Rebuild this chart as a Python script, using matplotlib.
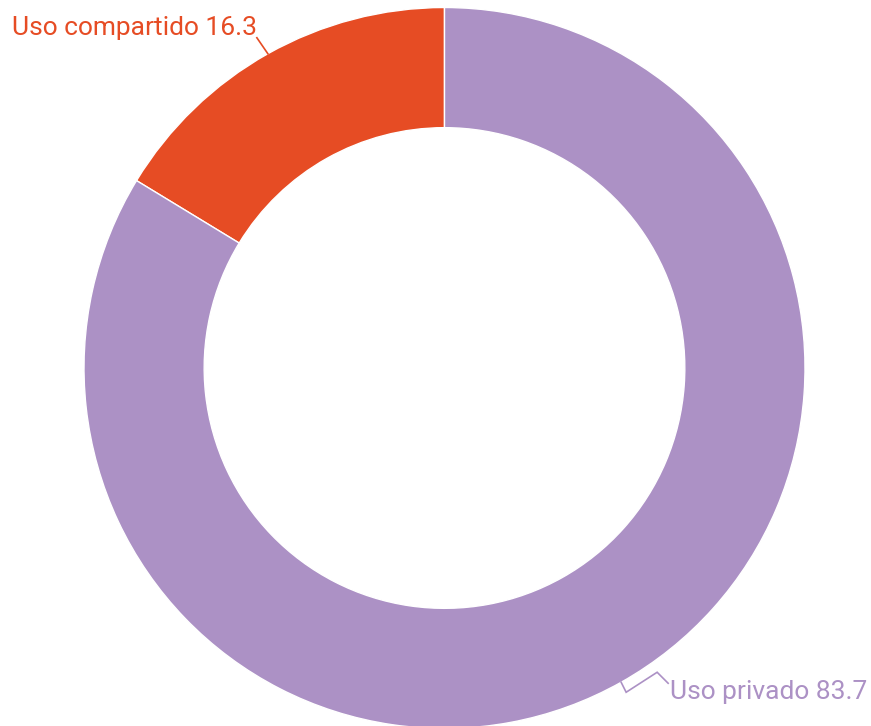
import numpy as np
import matplotlib.pyplot as plt

plt.rcParams['font.family'] = ['Roboto', 'DejaVu Sans']

labels = ['Uso compartido', 'Uso privado']
values = [16.3, 83.7]
colors = ['#E64C24', '#AC91C5']

fig = plt.figure(figsize=(8.71, 7.26), dpi=100)
ax = fig.add_axes([0, 0, 1, 1])

R = 360.5  # pixels per unit radius
cx, cy = 444.5, 368


def px(x, y):
    # pixel (from top-left) to data
    return (x - cx) / R, (cy - y) / R


wedges, _ = ax.pie(values, colors=colors, startangle=90, counterclock=True,
                   radius=1, wedgeprops=dict(width=1/3, edgecolor='white', linewidth=1))

ax.set_xlim(px(0, 0)[0], px(871, 0)[0])
ax.set_ylim(px(0, 726)[1], px(0, 0)[1])
ax.set_aspect('equal')
ax.axis('off')

# label offsets relative to wedge mid point on outer edge (pixels)
leader = [
    [(0, 0), (-11, -16)],
    [(0, 0), (5, 10), (36, -10), (47, 1)],
]
text_pos = [(12, 28), (670, 692)]

for w, lab, val, col, pts, tp in zip(wedges, labels, values, colors, leader, text_pos):
    mid = np.deg2rad((w.theta1 + w.theta2) / 2)
    ex, ey = cx + R * np.cos(mid), cy - R * np.sin(mid)
    xs, ys = zip(*[px(ex + dx, ey + dy) for dx, dy in pts])
    ax.plot(xs, ys, color=col, lw=1.2, solid_joinstyle='miter')
    tx, ty = px(*tp)
    ax.text(tx, ty, f'{lab} {val}', color=col, fontsize=19,
            ha='left', va='center')

fig.savefig('out.png', dpi=100)
